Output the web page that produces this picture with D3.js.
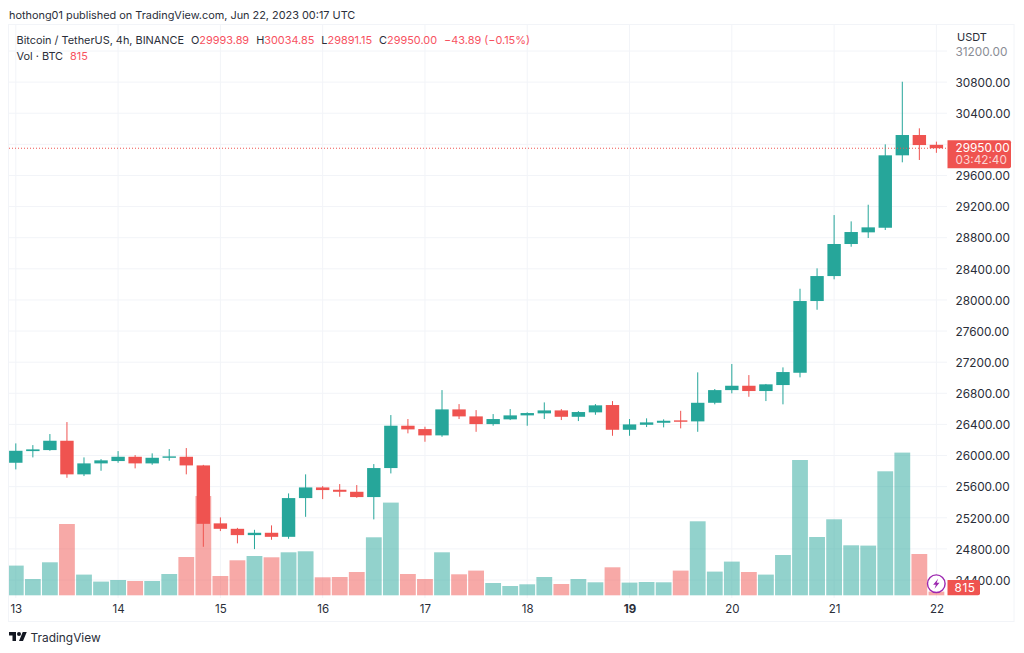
<!DOCTYPE html>
<html>
<head>
<meta charset="utf-8">
<script src="https://cdn.jsdelivr.net/npm/d3@7/dist/d3.min.js"></script>
<style>
html,body{margin:0;padding:0;background:#fff;}
svg{display:block;}
text{font-family:Inter,"Liberation Sans",sans-serif;fill:#2a2e39;}
</style>
</head>
<body>
<svg id="chart" width="1024" height="653"></svg>
<script>
const openPrices=[25907,26057,26070,26190,25758,25899,25929,25984,25899,25971,25984,25873,25128,25058,24977,25007,24955,25453,25590,25560,25534,25466,25839,26383,26340,26259,26593,26503,26404,26465,26516,26542,26580,26498,26555,26649,26331,26395,26421,26452,26439,26678,26841,26897,26829,26906,27064,27986,28307,28719,28869,28928,29859,30120,29993.89];
const highPrices=[26156,26134,26276,26430,25976,25954,26057,26006,26028,26083,26096,25880,25205,25070,25045,25102,25513,25758,25607,25633,25620,25890,26520,26469,26370,26841,26661,26584,26533,26597,26555,26683,26597,26571,26661,26700,26469,26478,26465,26575,27069,26855,27176,27034,26920,27133,28144,28406,29091,29010,29224,30000,30805,30206,30034.85];
const lowPrices=[25822,25976,26061,25714,25736,25804,25907,25835,25881,25933,25758,24827,25029,24871,24797,24917,24930,25212,25440,25470,25457,25179,25770,26285,26177,26241,26469,26305,26383,26456,26383,26469,26456,26443,26524,26254,26254,26366,26362,26349,26305,26658,26799,26755,26700,26658,27005,27874,28265,28684,28796,28899,29769,29799,29891.15];
const closePrices=[26061,26079,26190,25758,25899,25938,25984,25899,25971,25989,25873,25122,25058,24977,25007,24955,25453,25590,25556,25534,25466,25839,26383,26336,26259,26593,26503,26404,26469,26516,26546,26580,26498,26559,26645,26331,26400,26426,26447,26434,26678,26841,26897,26829,26915,27073,27986,28307,28719,28873,28933,29859,30120,29991,29950];
const volumes=[6534,3586,7260,15686,4554,3014,3366,3146,3146,4686,8426,21846,4246,7700,8646,8360,9460,9680,3960,4026,5126,12760,20394,4686,3586,9460,4620,5434,2706,2046,2420,4026,2486,3586,2860,6160,2794,2926,2860,5434,16280,5214,7414,5126,4554,8866,29766,12826,16720,11000,10934,27280,31394,9086,815];
const dayLabels=["13","14","15","16","17","18","19","20","21","22"];
const dayIndexes=[0,6,12,18,24,30,36,42,48,54];
const priceTicks=d3.range(24400,31201,400);
const hiddenTick=30000;
const lastPrice=29950, lastVolume=815, countdown="03:42:40";

const UP="#26a69a", DOWN="#ef5350", GRID="#f2f4f8", TXT="#2a2e39", LEG="#f7525f";
const svg=d3.select("#chart");
const x=d3.scaleLinear().domain([0,54]).range([15.8,936.4]);
const y=d3.scaleLinear().domain([24400,31200]).range([580,51]);
const yVol=d3.scaleLinear().domain([0,22000]).range([595.3,495.3]);
const idx=d3.range(openPrices.length);
const col=i=>closePrices[i]>=openPrices[i]?UP:DOWN;

// frame
svg.append("rect").attr("x",8.5).attr("y",24.5).attr("width",1005.5).attr("height",597).attr("fill","#fff").attr("stroke",GRID);

// grid
svg.append("g").selectAll("line").data(priceTicks).join("line")
  .attr("x1",9).attr("x2",947).attr("y1",d=>y(d)).attr("y2",d=>y(d)).attr("stroke",GRID).attr("stroke-width",1);
svg.append("g").selectAll("line").data(dayIndexes).join("line")
  .attr("x1",d=>x(d)).attr("x2",d=>x(d)).attr("y1",25).attr("y2",598).attr("stroke",GRID).attr("stroke-width",1);

// volume
svg.append("g").selectAll("rect").data(idx).join("rect")
  .attr("x",i=>Math.max(9,x(i)-7.9)).attr("width",i=>x(i)+7.9-Math.max(9,x(i)-7.9))
  .attr("y",i=>yVol(volumes[i])).attr("height",i=>yVol(0)-yVol(volumes[i]))
  .attr("fill",col).attr("fill-opacity",0.5);

// wicks
svg.append("g").selectAll("line").data(idx).join("line")
  .attr("x1",i=>x(i)).attr("x2",i=>x(i))
  .attr("y1",i=>y(highPrices[i])).attr("y2",i=>y(lowPrices[i]))
  .attr("stroke",col).attr("stroke-width",1);
// bodies
svg.append("g").selectAll("rect").data(idx).join("rect")
  .attr("x",i=>x(i)-6.7).attr("width",13.4)
  .attr("y",i=>y(Math.max(openPrices[i],closePrices[i])))
  .attr("height",i=>Math.max(1,Math.abs(y(openPrices[i])-y(closePrices[i]))))
  .attr("fill",col);

// last price line
svg.append("line").attr("x1",9).attr("x2",947).attr("y1",y(lastPrice)).attr("y2",y(lastPrice))
  .attr("stroke",DOWN).attr("stroke-width",1).attr("stroke-dasharray","1 2");

// price axis (the tick under the last-price tag is covered in the original, so it carries no label)
const yAxis=d3.axisRight(y).tickValues(priceTicks.filter(d=>d!==hiddenTick)).tickSize(0).tickPadding(0).tickFormat(d=>d3.format(".2f")(d));
const gy=svg.append("g").attr("transform","translate(955.5,0)").call(yAxis);
gy.select(".domain").remove();
gy.selectAll("text").style("font-size","11.8px").style("fill",TXT).attr("dy","0.36em");
gy.selectAll(".tick").filter(d=>d===31200).select("text").style("fill","#8a8d95");

// time axis
const xAxis=d3.axisBottom(x).tickValues(dayIndexes).tickSize(0).tickPadding(0).tickFormat((d,i)=>dayLabels[i]);
const gx=svg.append("g").attr("transform","translate(0,604.5)").call(xAxis);
gx.select(".domain").remove();
gx.selectAll("text").style("font-size","11.5px").style("fill",TXT).attr("dy","0.71em");
gx.selectAll(".tick").filter(d=>d===36).select("text").style("font-weight","700");

// last price label
const ly=y(lastPrice);
svg.append("path").attr("d",`M947.5 ${ly-8}H1009a2 2 0 0 1 2 2V${ly+18}a2 2 0 0 1 -2 2H947.5Z`).attr("fill",DOWN);
svg.append("text").attr("x",955.5).attr("y",ly-0.5).attr("dy","0.36em").style("font-size","11.8px").style("fill","#fff").text(d3.format(".2f")(lastPrice));
svg.append("text").attr("x",955.5).attr("y",ly+12).attr("dy","0.36em").style("font-size","11.8px").style("fill","#fff").style("fill-opacity",0.75).text(countdown);

// volume label
const vy=yVol(0);
svg.append("path").attr("d",`M947.5 ${vy-15.3}H978a2 2 0 0 1 2 2V${vy-2}a2 2 0 0 1 -2 2H947.5Z`).attr("fill",DOWN);
svg.append("text").attr("x",965).attr("y",vy-7.5).attr("dy","0.36em").attr("text-anchor","middle").style("font-size","11.8px").style("letter-spacing","0.5px").style("fill","#fff").text(lastVolume);

// bolt icon
const icon=svg.append("g").attr("transform","translate(936.3,583.7)");
icon.append("circle").attr("r",8.8).attr("fill","#fff").attr("stroke","#9c27b0").attr("stroke-width",1.4);
icon.append("path").attr("d","M1.8 -5L-3.2 1H-0.4L-1.8 5L3.2 -1H0.4Z").attr("fill","#9c27b0");

// header
svg.append("text").attr("x",9).attr("y",19).style("font-size","10.9px").style("fill","#2a2e39").text("hothong01 published on TradingView.com, Jun 22, 2023 00:17 UTC");
svg.append("text").attr("x",957).attr("y",40.5).style("font-size","11px").style("fill",TXT).text("USDT");

// legend
const leg1=svg.append("text").attr("x",16.5).attr("y",44).style("font-size","10.9px");
const tsp=(el,t,c,dx)=>{const s=el.append("tspan").style("fill",c).text(t); if(dx) s.attr("dx",dx);};
tsp(leg1,"Bitcoin / TetherUS, 4h, BINANCE",TXT);
tsp(leg1,"O",TXT,7);tsp(leg1,"29993.89",LEG);
tsp(leg1,"H",TXT,7);tsp(leg1,"30034.85",LEG);
tsp(leg1,"L",TXT,7);tsp(leg1,"29891.15",LEG);
tsp(leg1,"C",TXT,7);tsp(leg1,"29950.00",LEG);
tsp(leg1,"−43.89 (−0.15%)",LEG,7);
const leg2=svg.append("text").attr("x",16.5).attr("y",60).style("font-size","10.9px");
tsp(leg2,"Vol · BTC",TXT);tsp(leg2,"815",LEG,7);

// logo
const logo=svg.append("g").attr("transform","translate(9,630) scale(0.5)").attr("fill","#131722");
logo.append("path").attr("d","M14 22H7V11H0V4h14v18zM28 22h-8l7.5-18h8L28 22z");
logo.append("circle").attr("cx",20).attr("cy",8).attr("r",4);
svg.append("text").attr("x",30.5).attr("y",642).style("font-size","11.9px").style("fill","#2a2e39").text("TradingView");
</script>
</body>
</html>
